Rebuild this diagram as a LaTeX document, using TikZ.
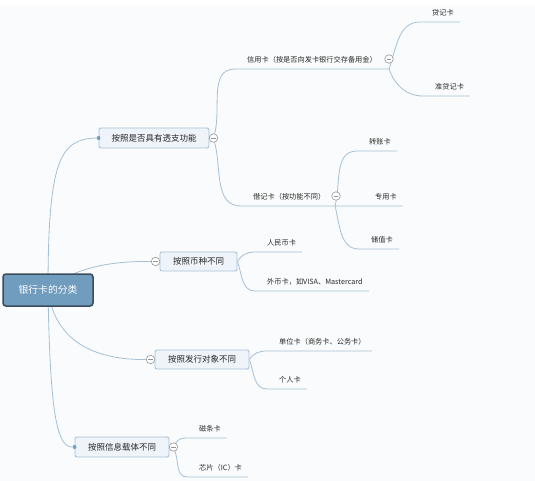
\documentclass[tikz,border=0pt]{standalone}
\usepackage{fontspec}
\setmainfont{Noto Sans CJK SC}
\usetikzlibrary{backgrounds}

\definecolor{linkblue}{RGB}{163,192,216}
\definecolor{topicfill}{RGB}{238,244,250}
\definecolor{topicedge}{RGB}{168,194,216}
\definecolor{rootfill}{RGB}{112,156,190}
\definecolor{rootedge}{RGB}{58,76,92}
\definecolor{foldgray}{RGB}{150,150,150}
\definecolor{jointblue}{RGB}{118,158,196}
\definecolor{inkgray}{RGB}{40,40,40}
\definecolor{paper}{RGB}{250,251,252}

\tikzset{
	root/.style={draw=rootedge, fill=rootfill, rounded corners=3pt, line width=1.5pt,
		text=white, font=\fontsize{9.8}{11}\selectfont, inner sep=0pt},
	topic/.style={draw=topicedge, fill=topicfill, rounded corners=2pt, line width=0.9pt,
		text=inkgray, font=\fontsize{8.5}{10}\selectfont, inner sep=0pt},
	leaf/.style={anchor=south west, inner xsep=6pt, inner ysep=5.5pt,
		text=inkgray, font=\fontsize{7.2}{8}\selectfont},
	link/.style={draw=linkblue, line width=0.8pt},
	fold/.style={circle, draw=foldgray, fill=white, minimum size=8.5pt, inner sep=0pt, line width=0.6pt,
		path picture={\draw[foldgray, line width=0.6pt] ([xshift=1.8pt]path picture bounding box.west) -- ([xshift=-1.8pt]path picture bounding box.east);}},
	joint/.style={circle, fill=jointblue, minimum size=4pt, inner sep=0pt}
}

\begin{document}
\begin{tikzpicture}[x=1pt, y=1pt]
	\useasboundingbox (0,0) rectangle (535,-481);
	% central topic and main topics
	\node[root, minimum width=90pt, minimum height=32pt] (root) at (48,-290) {银行卡的分类};
	\node[topic, minimum width=110pt, minimum height=20pt] (b1) at (154,-138) {按照是否具有透支功能};
	\node[topic, minimum width=77pt, minimum height=19pt] (b2) at (198.5,-261.5) {按照币种不同};
	\node[topic, minimum width=94pt, minimum height=19pt] (b3) at (202,-359.5) {按照发行对象不同};
	\node[topic, minimum width=94pt, minimum height=20pt] (b4) at (122,-447) {按照信息载体不同};
	
	% subtopics
	\node[leaf] (cr) at (241,-69) {信用卡（按是否向发卡银行交存备用金）};
	\node[leaf] (dj) at (426,-22) {贷记卡};
	\node[leaf] (zdj) at (429,-96) {准贷记卡};
	\node[leaf] (db) at (247,-206) {借记卡（按功能不同）};
	\node[leaf] (zz) at (363,-151) {转账卡};
	\node[leaf] (zy) at (369,-206) {专用卡};
	\node[leaf] (cz) at (365,-249) {储值卡};
	\node[leaf] (rmb) at (261,-252) {人民币卡};
	\node[leaf] (wb) at (261,-291) {外币卡，如VISA、Mastercard};
	\node[leaf] (dw) at (273,-351) {单位卡（商务卡、公务卡）};
	\node[leaf] (gr) at (273,-389) {个人卡};
	\node[leaf] (ct) at (193,-438) {磁条卡};
	\node[leaf] (xp) at (193,-477) {芯片（IC）卡};
	\coordinate (crfork) at (389,-69);
	\coordinate (dbfork) at (335,-206);
	
	% fold markers and joints
	\node[fold] (f1) at ([xshift=4pt]b1.east) {};
	\node[fold] (f2) at ([xshift=-4pt]b2.west) {};
	\node[fold] (f3) at ([xshift=-4pt]b3.west) {};
	\node[fold] (f4) at ([xshift=4pt]b4.east) {};
	\node[fold] (fcr) at (389,-59) {};
	\node[fold] (fdb) at (336,-196) {};
	\node[joint] (j1) at (b1.west) {};
	\node[joint] (j4) at (b4.west) {};
	
	\begin{pgfonlayer}{background}
		\fill[white] (0,0) rectangle (535,-481);
		\fill[paper] (0,-5) rectangle (535,-481);
		% root to main topics
		\draw[link] (root.center) .. controls (48,-160) and (60,-139) .. (j1);
		\draw[link] (root.center) .. controls (72,-268) and (110,-261) .. (f2);
		\draw[link] (root.center) .. controls (55,-345) and (100,-360) .. (f3);
		\draw[link] (root.center) .. controls (50,-420) and (58,-447) .. (j4);
		% main topics to subtopics
		\draw[link] (f1) to[out=75,in=180] ([xshift=-6pt]cr.south west) -- (crfork);
		\draw[link] (f1) to[out=-75,in=180] ([xshift=-6pt]db.south west) -- (dbfork) -- (zy.south east);
		\foreach \leafname/\bend in {dj/70, zdj/-70}
			\draw[link] (crfork) to[out=\bend,in=180] ([xshift=-6pt]\leafname.south west) -- (\leafname.south east);
		\foreach \leafname/\bend in {zz/75, cz/-75}
			\draw[link] (dbfork) to[out=\bend,in=180] ([xshift=-6pt]\leafname.south west) -- (\leafname.south east);
		\foreach \leafname/\bend in {rmb/60, wb/-70}
			\draw[link] (b2.east) to[out=\bend,in=180] ([xshift=-6pt]\leafname.south west) -- (\leafname.south east);
		\foreach \leafname/\bend in {dw/60, gr/-70}
			\draw[link] (b3.east) to[out=\bend,in=180] ([xshift=-6pt]\leafname.south west) -- (\leafname.south east);
		\foreach \leafname/\bend in {ct/60, xp/-70}
			\draw[link] (f4) to[out=\bend,in=180] ([xshift=-6pt]\leafname.south west) -- (\leafname.south east);
	\end{pgfonlayer}
\end{tikzpicture}
\end{document}
